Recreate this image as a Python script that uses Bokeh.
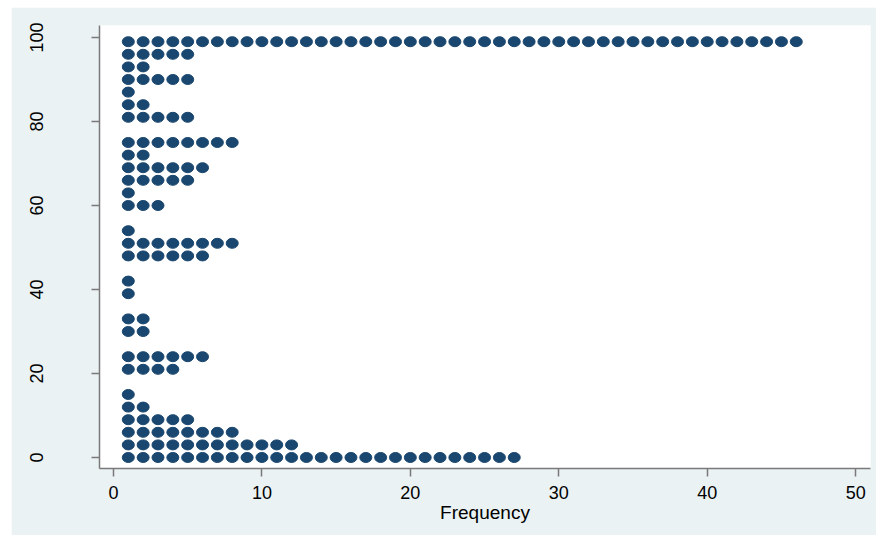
from bokeh.plotting import figure
from bokeh.models import Range1d, FixedTicker, ColumnDataSource, Spacer
from bokeh.layouts import row, column
from bokeh.embed import file_html
from bokeh.resources import INLINE

# Dot-plot bins (value) and number of observations in each bin
bin_values = [0, 3, 6, 9, 12, 15, 21, 24, 30, 33, 39, 42, 48, 51, 54,
              60, 63, 66, 69, 72, 75, 81, 84, 87, 90, 93, 96, 99]
bin_counts = [27, 12, 8, 5, 2, 1, 4, 6, 2, 2, 1, 1, 6, 8, 1,
              3, 1, 5, 6, 2, 8, 5, 2, 1, 5, 2, 5, 46]
x_ticks = [0, 10, 20, 30, 40, 50]
y_ticks = [0, 20, 40, 60, 80, 100]

xs, ys = [], []
for v, n in zip(bin_values, bin_counts):
    for k in range(1, n + 1):
        xs.append(k)
        ys.append(v)
src = ColumnDataSource(dict(x=xs, y=ys))

BG = "#eaf2f3"
p = figure(width=865, height=528, output_backend="svg", toolbar_location=None,
           x_range=Range1d(-0.94, 51.0), y_range=Range1d(-2.62, 102.86),
           min_border_left=88, min_border_right=6, min_border_top=18, min_border_bottom=67)
p.background_fill_color = "white"
p.border_fill_color = BG
p.outline_line_color = None
p.xgrid.visible = False
p.ygrid.visible = False

p.ellipse(x="x", y="y", width=12, height=10, width_units="screen", height_units="screen",
          source=src, fill_color="#1a476f", line_color="#1a476f")

for ax in (p.xaxis[0], p.yaxis[0]):
    ax.axis_line_color = "#7a7a7a"
    ax.axis_line_width = 1.5
    ax.major_tick_line_color = "#7a7a7a"
    ax.major_tick_line_width = 1.5
    ax.major_tick_out = 8
    ax.major_tick_in = 0
    ax.minor_tick_line_color = None
    ax.major_label_text_font = "Liberation Sans"
    ax.major_label_text_font_size = "18px"
    ax.major_label_text_color = "black"

p.xaxis.ticker = FixedTicker(ticks=x_ticks)
p.yaxis.ticker = FixedTicker(ticks=y_ticks)
p.xaxis.major_label_standoff = 9
p.yaxis.major_label_standoff = 48
p.yaxis.major_label_orientation = "vertical"
p.xaxis.axis_label = "Frequency"
p.xaxis.axis_label_text_font = "Liberation Sans"
p.xaxis.axis_label_text_font_size = "19px"
p.xaxis.axis_label_text_font_style = "normal"
p.xaxis.axis_label_text_color = "black"
p.xaxis.axis_label_standoff = 0

layout = column(Spacer(height=7), row(Spacer(width=11), p))
open("out.html", "w").write(file_html(layout, INLINE))
